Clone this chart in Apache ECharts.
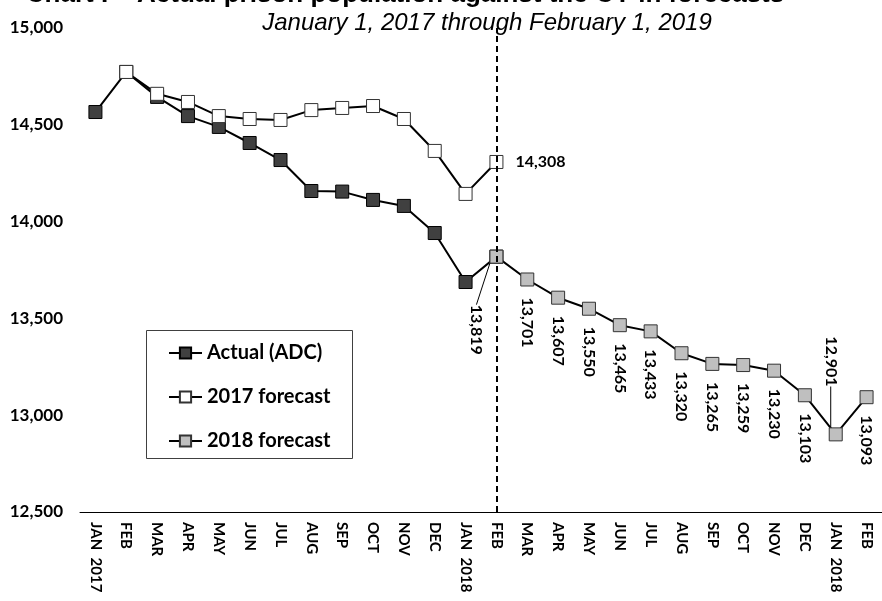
<!DOCTYPE html>
<html>
<head>
<meta charset="utf-8">
<script src="https://cdn.jsdelivr.net/npm/echarts@6/dist/echarts.min.js"></script>
<style>
html,body{margin:0;padding:0;background:#fff;}
#chart{width:882px;height:601px;}
</style>
</head>
<body>
<div id="chart"></div>
<script>
var categories = ['JAN 2017','FEB 2017','MAR 2017','APR 2017','MAY 2017','JUN 2017','JUL 2017','AUG 2017','SEP 2017','OCT 2017','NOV 2017','DEC 2017',
  'JAN 2018','FEB 2018','MAR 2018','APR 2018','MAY 2018','JUN 2018','JUL 2018','AUG 2018','SEP 2018','OCT 2018','NOV 2018','DEC 2018',
  'JAN 2019','FEB 2019'];
var tickLabels = ['JAN  2017','FEB','MAR','APR','MAY','JUN','JUL','AUG','SEP','OCT','NOV','DEC',
  'JAN  2018','FEB','MAR','APR','MAY','JUN','JUL','AUG','SEP','OCT','NOV','DEC',
  'JAN  2018','FEB'];
var actualADC = [14566,14773,14644,14545,14489,14406,14318,14158,14155,14112,14081,13941,13688,13819,
  null,null,null,null,null,null,null,null,null,null,null,null];
var forecast2017 = [null,14773,14660,14618,14545,14530,14525,14576,14587,14597,14530,14365,14143,14308,
  null,null,null,null,null,null,null,null,null,null,null,null];
var forecast2018 = [null,null,null,null,null,null,null,null,null,null,null,null,null,
  13819,13701,13607,13550,13465,13433,13320,13265,13259,13230,13103,12901,13093];
var yTicks = [12500,13000,13500,14000,14500,15000];
var dividerCategory = 'FEB 2018';
var titleText = 'Chart I \u2013 Actual prison population against the CY in forecasts';
var subtitleText = 'January 1, 2017 through February 1, 2019';

var FONT = 'Lato';
function fmt(v){ return v.toLocaleString('en-US'); }

var chart = echarts.init(document.getElementById('chart'), null, {renderer:'canvas'});

var f18data = forecast2018.map(function(v, i){
  if (v === null) return null;
  if (i === 13 || i === 24) {
    return {value: v, labelLine: {show: true, length2: 0, lineStyle: {color: '#000', width: 1}}};
  }
  return v;
});
var f17data = forecast2017.map(function(v, i){
  if (v === null) return null;
  if (i === 13) {
    return {value: v, label: {show: true, position: 'right', distance: 12, rotate: 0, align: 'left', verticalAlign: 'middle',
      fontFamily: FONT, fontWeight: 'bold', fontSize: 16, color: '#000', formatter: function(p){ return fmt(p.value); }}};
  }
  return v;
});

var option = {
  backgroundColor: '#fff',
  animation: false,
  graphic: [
    {type: 'text', style: {text: titleText, x: 405, y: -5, textAlign: 'center', textVerticalAlign: 'middle',
      font: 'bold 26px "Liberation Sans", Arial, sans-serif', fill: '#000'}},
    {type: 'text', style: {text: subtitleText, x: 487, y: 23, textAlign: 'center', textVerticalAlign: 'middle',
      font: 'italic 24px "Liberation Sans", Arial, sans-serif', fill: '#000'}},
    {type: 'rect', shape: {x: 146.5, y: 330.5, width: 206, height: 128}, style: {fill: 'none', stroke: '#404040', lineWidth: 1}, z: 0}
  ],
  legend: {
    orient: 'vertical', left: 168, top: 343, padding: 0, itemGap: 24,
    itemWidth: 33, itemHeight: 14,
    textStyle: {fontFamily: FONT, fontWeight: 'bold', fontSize: 20, color: '#000', lineHeight: 20},
    data: ['Actual (ADC)', '2017 forecast', '2018 forecast']
  },
  grid: {left: 80, top: 28, width: 806, height: 484, containLabel: false},
  xAxis: {
    type: 'category', data: categories, boundaryGap: true,
    axisLine: {show: true, lineStyle: {color: '#000', width: 1}},
    axisTick: {show: false},
    axisLabel: {interval: 0, rotate: -90, margin: 10, fontFamily: FONT, fontWeight: 'bold', fontSize: 15, color: '#000',
      formatter: function(v, i){ return tickLabels[i]; }},
    splitLine: {show: false}
  },
  yAxis: {
    type: 'value', min: yTicks[0], max: yTicks[yTicks.length-1], interval: 500,
    axisLine: {show: false}, axisTick: {show: false}, splitLine: {show: false},
    axisLabel: {margin: 17, fontFamily: FONT, fontWeight: 'bold', fontSize: 17, color: '#000', formatter: function(v){ return fmt(v); }}
  },
  series: [
    {
      name: 'Actual (ADC)', type: 'line', data: actualADC, connectNulls: false,
      symbol: 'rect', symbolSize: 13,
      lineStyle: {color: '#000', width: 2},
      itemStyle: {color: '#404040', borderColor: '#000', borderWidth: 1},
      z: 2,
      markLine: {
        silent: true, symbol: 'none', label: {show: false},
        lineStyle: {type: [6, 4], color: '#000', width: 2},
        data: [{xAxis: dividerCategory}]
      }
    },
    {
      name: '2017 forecast', type: 'line', data: f17data,
      symbol: 'rect', symbolSize: 13,
      lineStyle: {color: '#000', width: 2},
      itemStyle: {color: '#fff', borderColor: '#333', borderWidth: 1},
      z: 3
    },
    {
      name: '2018 forecast', type: 'line', data: f18data,
      symbol: 'rect', symbolSize: 13,
      lineStyle: {color: '#000', width: 2},
      itemStyle: {color: '#bfbfbf', borderColor: '#333', borderWidth: 1},
      z: 4,
      label: {show: true, position: 'bottom', distance: 11, rotate: -90, align: 'left', verticalAlign: 'middle',
        fontFamily: FONT, fontWeight: 'bold', fontSize: 16, color: '#000',
        formatter: function(p){ return fmt(p.value); }},
      labelLayout: function(p){
        // label offsets are in the rotated label frame: dx = down, dy = left
        if (p.dataIndex === 13) return {dx: 30, dy: 20};
        if (p.dataIndex === 24) return {dx: -116, dy: 5};
        return {};
      }
    }
  ]
};
chart.setOption(option);
</script>
</body>
</html>
